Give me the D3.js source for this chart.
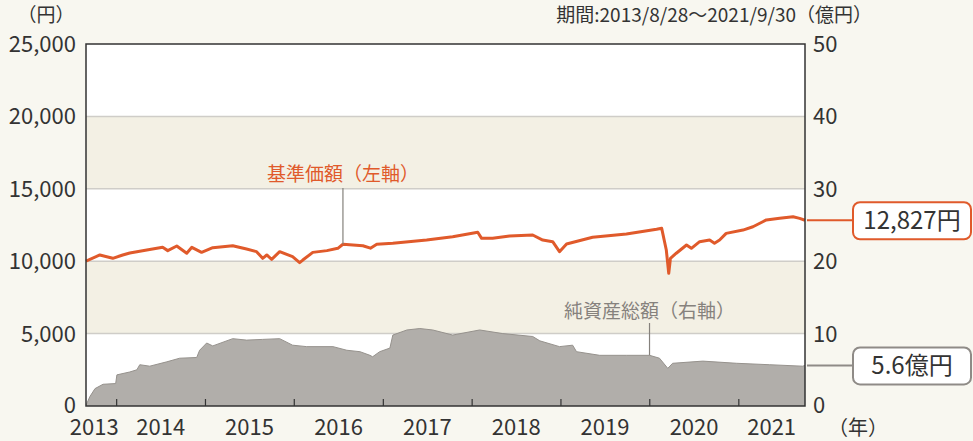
<!DOCTYPE html>
<html>
<head>
<meta charset="utf-8">
<script src="https://cdn.jsdelivr.net/npm/d3@7"></script>
<style>
  body { margin: 0; background: #f8f7f0; }
  svg { display: block; font-family: "Noto Sans CJK JP", "Noto Sans", sans-serif; }
</style>
</head>
<body>
<svg id="chart" width="973" height="441"></svg>
<script>
// 基準価額 (円)
const priceData = [
  ['2013-08-28', 10000], ['2013-10-24', 10430], ['2013-12-16', 10200], ['2014-01-26', 10430],
  ['2014-02-24', 10570], ['2014-05-05', 10770], ['2014-07-09', 10960], ['2014-07-30', 10730],
  ['2014-09-05', 11050], ['2014-10-16', 10550], ['2014-11-06', 10960], ['2014-12-16', 10610],
  ['2015-01-31', 10930], ['2015-04-23', 11070], ['2015-06-19', 10840], ['2015-07-30', 10660],
  ['2015-08-24', 10200], ['2015-09-10', 10430], ['2015-09-30', 10130], ['2015-11-02', 10660],
  ['2015-12-25', 10310], ['2016-01-23', 9900], ['2016-02-05', 10080], ['2016-03-17', 10610],
  ['2016-05-14', 10730], ['2016-06-28', 10890], ['2016-07-19', 11170], ['2016-10-09', 11070],
  ['2016-11-09', 10900], ['2016-12-05', 11170], ['2017-02-09', 11240], ['2017-06-28', 11460],
  ['2017-10-13', 11690], ['2018-01-24', 12000], ['2018-02-09', 11580], ['2018-03-26', 11580],
  ['2018-06-04', 11740], ['2018-09-07', 11810], ['2018-10-18', 11460], ['2018-11-28', 11350],
  ['2018-12-26', 10660], ['2019-01-24', 11190], ['2019-05-11', 11650], ['2019-09-27', 11880],
  ['2020-01-29', 12200], ['2020-02-19', 12270], ['2020-03-09', 10770], ['2020-03-19', 9160],
  ['2020-03-26', 10200], ['2020-04-19', 10550], ['2020-05-31', 11120], ['2020-06-20', 10890],
  ['2020-07-24', 11350], ['2020-09-03', 11460], ['2020-09-23', 11240], ['2020-10-14', 11460],
  ['2020-11-10', 11920], ['2021-01-18', 12150], ['2021-02-28', 12380], ['2021-04-24', 12850],
  ['2021-06-18', 12960], ['2021-08-12', 13070], ['2021-09-08', 12960], ['2021-09-30', 12827]
];

// 純資産総額 (億円)
const navData = [
  ['2013-08-28', 0.1], ['2013-09-13', 1.3], ['2013-10-04', 2.4], ['2013-11-06', 3.0],
  ['2013-12-28', 3.1], ['2014-01-02', 4.3], ['2014-02-24', 4.7], ['2014-03-25', 5.0],
  ['2014-04-06', 5.7], ['2014-05-17', 5.5], ['2014-07-26', 6.1], ['2014-09-17', 6.6],
  ['2014-11-26', 6.7], ['2014-12-08', 7.7], ['2015-01-06', 8.7], ['2015-01-31', 8.3],
  ['2015-04-23', 9.3], ['2015-06-19', 9.1], ['2015-08-24', 9.2], ['2015-11-02', 9.3],
  ['2015-12-25', 8.4], ['2016-02-21', 8.2], ['2016-06-08', 8.2], ['2016-08-04', 7.7],
  ['2016-09-27', 7.5], ['2016-11-07', 7.0], ['2016-11-18', 6.8], ['2016-12-17', 7.5],
  ['2017-01-28', 8.0], ['2017-02-09', 9.8], ['2017-04-08', 10.5], ['2017-05-31', 10.7],
  ['2017-07-23', 10.5], ['2017-10-13', 9.8], ['2018-02-01', 10.5], ['2018-05-07', 10.0],
  ['2018-09-07', 9.6], ['2018-10-06', 9.0], ['2018-12-26', 8.2], ['2019-02-18', 8.4],
  ['2019-03-06', 7.5], ['2019-06-09', 7.0], ['2019-09-27', 7.0], ['2019-12-31', 7.0],
  ['2020-02-10', 6.6], ['2020-03-15', 5.2], ['2020-04-04', 5.9], ['2020-08-06', 6.2],
  ['2020-12-23', 5.9], ['2021-05-08', 5.7], ['2021-09-20', 5.5], ['2021-09-30', 5.6]
];

const leftTicks = [0, 5000, 10000, 15000, 20000, 25000];
const rightTicks = [0, 10, 20, 30, 40, 50];
const yearTicks = ['2014-01-01', '2015-01-01', '2016-01-01', '2017-01-01',
                   '2018-01-01', '2019-01-01', '2020-01-01', '2021-01-01'];
const yearLabels = [
  ['2013-10-01', '2013'], ['2014-07-01', '2014'], ['2015-07-01', '2015'], ['2016-07-01', '2016'],
  ['2017-07-01', '2017'], ['2018-07-01', '2018'], ['2019-07-01', '2019'], ['2020-07-01', '2020'],
  ['2021-05-16', '2021']
];
const bands = [[5000, 10000], [15000, 20000]];
const period = '期間:2013/8/28～2021/9/30';
const lastPrice = '12,827円';
const lastNav = '5.6億円';

const parse = d3.timeParse('%Y-%m-%d');
const orange = '#e05a2b';
const greyFill = '#b1aeaa';
const greyText = '#86827d';
const dark = '#333';

const svg = d3.select('#chart');
const m = { left: 86, right: 168, top: 44, bottom: 35 };
const W = 973, H = 441;
const iw = W - m.left - m.right, ih = H - m.top - m.bottom;

const x = d3.scaleTime()
  .domain([parse('2013-08-28'), parse('2021-09-30')])
  .range([m.left, m.left + iw]);
const yL = d3.scaleLinear().domain([0, 25000]).range([m.top + ih, m.top]);
const yR = d3.scaleLinear().domain([0, 50]).range([m.top + ih, m.top]);

// plot background + bands
svg.append('rect').attr('x', m.left).attr('y', m.top).attr('width', iw).attr('height', ih).attr('fill', '#fff');
svg.selectAll('.band').data(bands).join('rect')
  .attr('x', m.left).attr('width', iw)
  .attr('y', d => yL(d[1])).attr('height', d => yL(d[0]) - yL(d[1]))
  .attr('fill', '#f3f0e4');

// grid
svg.selectAll('.grid').data(leftTicks.slice(1, -1)).join('line')
  .attr('x1', m.left).attr('x2', m.left + iw)
  .attr('y1', d => yL(d)).attr('y2', d => yL(d))
  .attr('stroke', '#cfcdc8').attr('stroke-width', 1.5);

// NAV area
const navPts = navData.map(d => ({ date: parse(d[0]), v: d[1] }));
svg.append('path').datum(navPts)
  .attr('d', d3.area().x(d => x(d.date)).y0(yR(0)).y1(d => yR(d.v)))
  .attr('fill', greyFill);
svg.append('path').datum(navPts)
  .attr('d', d3.line().x(d => x(d.date)).y(d => yR(d.v)))
  .attr('fill', 'none').attr('stroke', '#96928d').attr('stroke-width', 1);

// price line
const pricePts = priceData.map(d => ({ date: parse(d[0]), v: d[1] }));
svg.append('path').datum(pricePts)
  .attr('d', d3.line().x(d => x(d.date)).y(d => yL(d.v)))
  .attr('fill', 'none').attr('stroke', orange).attr('stroke-width', 3)
  .attr('stroke-linejoin', 'round');

// frame
svg.append('rect').attr('x', m.left).attr('y', m.top).attr('width', iw).attr('height', ih)
  .attr('fill', 'none').attr('stroke', dark).attr('stroke-width', 1.5);

// x ticks
svg.selectAll('.xt').data(yearTicks).join('line')
  .attr('x1', d => x(parse(d))).attr('x2', d => x(parse(d)))
  .attr('y1', m.top + ih).attr('y2', m.top + ih - 7)
  .attr('stroke', dark).attr('stroke-width', 1.2);

const fs = 22;
svg.selectAll('.xl').data(yearLabels).join('text')
  .attr('x', d => x(parse(d[0]))).attr('y', 435)
  .attr('text-anchor', 'middle').attr('font-size', fs).attr('fill', dark)
  .text(d => d[1]);

svg.selectAll('.yl').data(leftTicks).join('text')
  .attr('x', 76).attr('y', d => yL(d)).attr('dy', d => d === 0 ? '0.3em' : '0.36em')
  .attr('text-anchor', 'end').attr('font-size', fs).attr('fill', dark)
  .text(d => d3.format(',')(d));

svg.selectAll('.yr').data(rightTicks).join('text')
  .attr('x', 813).attr('y', d => yR(d)).attr('dy', d => d === 0 ? '0.3em' : '0.36em')
  .attr('text-anchor', 'start').attr('font-size', fs).attr('fill', dark)
  .text(d => d);

svg.append('text').attr('x', 46).attr('y', 22).attr('text-anchor', 'middle')
  .attr('font-size', 19).attr('fill', dark).text('（円）');
svg.append('text').attr('x', 872).attr('y', 22).attr('text-anchor', 'end')
  .attr('font-size', 19).attr('fill', dark).text(period + '（億円）');
svg.append('text').attr('x', 858).attr('y', 435).attr('text-anchor', 'middle')
  .attr('font-size', 20).attr('fill', dark).text('（年）');

// series labels with leader lines
const priceLabelDate = parse('2016-07-19');
svg.append('line').attr('x1', x(priceLabelDate)).attr('x2', x(priceLabelDate))
  .attr('y1', 188).attr('y2', yL(11170)).attr('stroke', '#85817c').attr('stroke-width', 1.2);
svg.append('text').attr('x', x(priceLabelDate)).attr('y', 181).attr('text-anchor', 'middle')
  .attr('font-size', 19).attr('fill', orange).text('基準価額（左軸）');

const navLabelDate = parse('2019-12-31');
svg.append('line').attr('x1', x(navLabelDate)).attr('x2', x(navLabelDate))
  .attr('y1', 323).attr('y2', yR(7.0)).attr('stroke', '#85817c').attr('stroke-width', 1.2);
svg.append('text').attr('x', x(navLabelDate)).attr('y', 318).attr('text-anchor', 'middle')
  .attr('font-size', 19).attr('fill', greyText).text('純資産総額（右軸）');

// end-value callouts
function callout(yPos, label, color) {
  svg.append('line').attr('x1', m.left + iw + 2).attr('x2', 853)
    .attr('y1', yPos).attr('y2', yPos).attr('stroke', color).attr('stroke-width', 2);
  svg.append('rect').attr('x', 853).attr('y', yPos - 18).attr('width', 118).attr('height', 37)
    .attr('rx', 7).attr('fill', '#fff').attr('stroke', color).attr('stroke-width', 2);
  svg.append('text').attr('x', 912).attr('y', yPos).attr('dy', '0.36em')
    .attr('text-anchor', 'middle').attr('font-size', 24).attr('fill', dark).text(label);
}
callout(yL(12827), lastPrice, orange);
callout(yR(5.6), lastNav, '#8f8b87');
</script>
</body>
</html>
